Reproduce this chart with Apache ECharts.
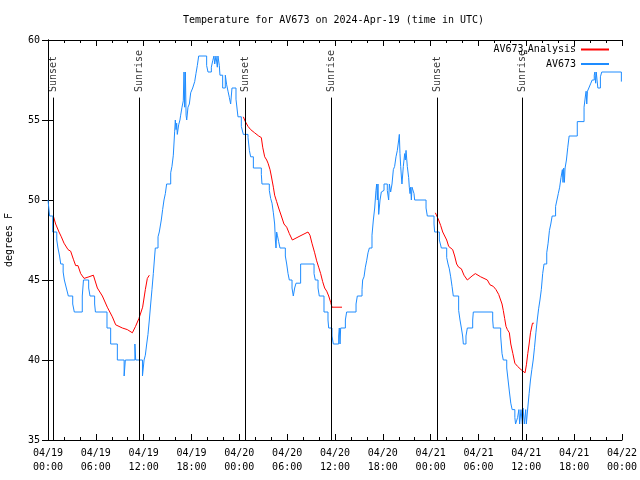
<!DOCTYPE html>
<html><head><meta charset="utf-8">
<script src="https://cdn.jsdelivr.net/npm/echarts@6.0.0/dist/echarts.min.js"></script>
<style>html,body{margin:0;padding:0;background:#fff}#c{width:640px;height:480px}</style>
</head><body><div id="c"></div>
<script>
// ---- data (hours since 2024-04-19 00:00 UTC, degrees F) ----
const tickLabels = ['04/19\n00:00','04/19\n06:00','04/19\n12:00','04/19\n18:00','04/20\n00:00','04/20\n06:00','04/20\n12:00','04/20\n18:00','04/21\n00:00','04/21\n06:00','04/21\n12:00','04/21\n18:00','04/22\n00:00'];
const sunHours = [0.67, 11.45, 24.75, 35.54, 48.83, 59.5];
const sunLabels = ['Sunset','Sunrise','Sunset','Sunrise','Sunset','Sunrise'];

const blueDay1 = [[0,50],[0.2,49],[0.6,48],[1.1,47.5],[1.25,47],[1.45,46.5],[1.6,46],[1.9,45.5],[2.05,45],[2.3,44.5],[2.55,44],[3.1,43.5],[3.3,43],[4.3,44],[4.45,45],[5.1,44.5],[5.27,44],[5.85,43.5],[5.95,43],[7.4,42],[7.86,41],[8.7,40],[9.55,39],[9.7,40],[10.9,41],[11.0,40],[11.85,39],[12.05,40],
[12.21,40.3],[12.38,41],[12.54,41.6],[12.71,42.5],[12.88,43.5],[13.04,44.4],[13.21,45.4],[13.38,46.5],[13.46,47],[13.8,47.7],[13.96,48],[14.21,48.75],[14.38,49.4],[14.55,50],[14.72,50.4],[14.88,51],[15.39,51.7],[15.55,52.1],[15.72,52.8],[15.89,54.3],[15.97,55],[16.06,54.4],[16.14,54.8],[16.22,54.1],[16.39,54.7],[16.55,55],[16.64,55.3],[16.81,55.8],[16.97,56.2],[17.06,58],[17.14,55.8],[17.23,58],[17.32,55.3],[17.4,55],[17.56,55.8],[17.73,56],[17.9,56.7],[18.15,57],[18.4,57.4],[18.56,57.9],[18.73,58.4],[18.9,59],[19.9,58.4],[20.07,58],[20.49,58.3],[20.66,58.7],[20.82,59],[20.91,58.5],[21.07,59],[21.24,58.3],[21.32,59],[21.49,58.4],[21.57,57.8],[21.91,57],[22.24,57.8],[22.41,57.2],[22.58,56.8],[22.75,56.4],[22.91,56],[23.08,57]];
const blueDay2 = [[23.58,56.3],[23.83,55.2],[24.25,54.6],[24.5,54.1],[25.09,53.9],[25.26,53.1],[25.42,52.7],[25.76,52],[26.76,51.6],[26.84,51],[27.76,50.6],[27.93,50.1],[28.1,49.8],[28.27,49.2],[28.43,48.5],[28.52,47.5],[28.6,47],[28.68,48],[28.77,47.8],[28.93,47.4],[29.1,47],[29.77,46.5],[29.94,46],[30.11,45.4],[30.27,45],[30.61,44.5],[30.77,44],[30.94,44.5],[31.11,44.8],[31.69,46],[33.37,45.4],[33.53,45],[33.87,44.5],[34.03,44],[34.62,43],
[35.12,42.5],[35.21,42],[35.62,41.5],[35.79,41],[36.46,41.5],[36.54,42],[36.63,41],[36.71,42],[37.3,42.5],[37.46,43],[38.64,43.5],[38.8,44],[39.39,44.4],[39.47,45],[39.64,45.2],[39.81,45.8],[39.97,46.2],[40.14,46.7],[40.31,47],[40.64,47.8],[40.81,48.75],[40.98,49.5],[41.14,50.6],[41.23,51],[41.31,50],[41.39,51],[41.48,49.1],[41.65,50],[41.81,50.5],[41.98,50.6],[42.15,51],[42.56,50.6],[42.73,50],[42.82,51],[42.98,50.5],[43.15,51],[43.32,51.9],[43.48,52.1],[43.65,52.7],[43.82,53.1],[43.99,53.75],[44.07,54.1],[44.15,52.9],[44.24,52.1],[44.32,51.5],[44.4,51],[44.57,52.1],[44.74,52.9],[44.82,52.5],[44.91,53.1],[45.07,52.1],[45.24,51.4],[45.32,50.8],[45.41,50.4],[45.49,50.8],[45.58,50],[45.66,50.8],[45.91,50.4],[45.99,50]];
const blueDay3 = [[47.42,49.5],[47.58,49],[48.42,48.5],[48.5,48],[49.09,47.5],[49.34,47],[50.01,46.4],[50.18,46],[50.34,45.7],[50.51,45.2],[50.68,44.6],[50.84,44],[51.51,43.1],[51.68,42.5],[51.85,42],[52.01,41.5],[52.1,41],[52.43,41.5],[52.6,42],[53.27,42.5],[53.35,43],[55.78,42.5],[55.86,42],[56.78,41.5],[56.95,40.4],[57.11,40],
[57.54,39.5],[57.71,38.75],[57.88,38],[58.05,37.3],[58.22,36.9],[58.56,36.4],[58.65,36],[58.9,36.4],[59.07,36.9],[59.16,36],[59.33,36.9],[59.5,36],[59.58,37],[59.75,36],[59.92,36.9],[60.0,36],[60.18,37],[60.35,37.9],[60.52,38.75],[60.69,39.4],[60.86,40],[61.03,40.8],[61.2,41.7],[61.37,42.5],[61.54,43.2],[61.71,43.75],[61.88,44.4],[62.05,45.4],[62.22,46],[62.56,46.7],[62.73,47.3],[62.9,48.1],[63.07,48.5],[63.24,49],[63.67,49.6],[63.84,50],[64.01,50.4],[64.18,50.8],[64.35,51.4],[64.52,51.9],[64.6,51.1],[64.69,52],[64.77,51.1],[64.86,52],[65.03,52.5],[65.2,53.3],[65.37,54],[66.39,54.9],[67.24,55.8],[67.41,56.5],[67.5,56.8],[67.58,56],[67.67,56.8],[67.84,57],[68.09,57.3],[68.26,57.5],[68.52,57.8],[68.6,58],[68.69,57.3],[68.77,58],[68.97,57],[69.29,57.7],[69.46,58],[71.92,57.4],[72,57.4]];

const redNight1 = [[0.67,49.0],[0.96,48.5],[1.38,48.0],[1.67,47.7],[2.01,47.3],[2.51,46.9],[2.84,46.8],[3.18,46.3],[3.47,45.9],[3.76,45.9],[4.1,45.4],[4.52,45.1],[5.14,45.2],[5.69,45.3],[6.19,44.5],[6.82,44.0],[7.44,43.3],[8.07,42.7],[8.49,42.2],[9.33,42.0],[9.95,41.9],[10.58,41.7],[10.75,41.65],[10.98,42.1],[11.41,42.6],[11.87,43.3],[12.21,44.4],[12.46,45.1],[12.71,45.3]];
const redNight2 = [[24.5,55.2],[24.75,54.9],[25.09,54.6],[25.42,54.4],[25.92,54.2],[26.43,54.0],[26.76,53.9],[26.93,53.3],[27.18,52.7],[27.43,52.5],[27.6,52.3],[27.85,51.9],[28.01,51.5],[28.27,50.8],[28.43,50.3],[28.68,49.9],[28.93,49.5],[29.27,49.0],[29.6,48.5],[29.94,48.3],[30.27,47.9],[30.65,47.5],[31.61,47.75],[32.61,48.0],[32.86,47.8],[33.11,47.3],[33.45,46.7],[33.7,46.2],[33.95,45.8],[34.2,45.4],[34.45,44.9],[34.7,44.5],[34.96,44.3],[35.21,44.0],[35.46,43.6],[35.62,43.3],[36.88,43.3]];
const redNight3 = [[48.59,49.2],[48.84,49.1],[49.0,48.75],[49.26,48.4],[49.51,48.0],[49.76,47.9],[50.01,47.5],[50.26,47.1],[50.51,47.0],[50.76,46.9],[51.01,46.5],[51.26,46.0],[51.51,45.8],[51.85,45.7],[52.18,45.3],[52.6,45.0],[52.85,45.1],[53.19,45.25],[53.6,45.4],[53.85,45.4],[54.27,45.2],[54.69,45.1],[55.11,45.0],[55.44,44.7],[55.86,44.6],[56.19,44.4],[56.53,44.1],[56.78,44.0],[56.95,43.5],[57.11,43.1],[57.28,42.6],[57.45,42.1],[57.62,41.9],[57.87,41.7],[58.05,41.0],[58.31,40.4],[58.56,39.8],[58.9,39.6],[59.33,39.4],[59.84,39.2],[60.01,39.7],[60.18,40.4],[60.35,41.0],[60.52,41.7],[60.77,42.3],[60.94,42.3]];

// ---- chart ----
const FONT = 'DejaVu Sans Mono';
const BLACK = '#000';
const RED = '#ff0000';
const BLUE = '#1e8cff';
const SUN_LINE_TOP = 56.4;   // where the vertical sun lines end (deg F scale)
const SUN_LABEL_Y = 56.75;   // anchor of the rotated labels

const chart = echarts.init(document.getElementById('c'), null, {renderer: 'canvas'});

const txt = {fontFamily: FONT, fontSize: 10, color: BLACK};

function xAxisCfg(pos, labels) {
  return {
    type: 'value', position: pos, min: 0, max: 72, interval: 6,
    axisLine: {show: true, lineStyle: {color: BLACK, width: 1}},
    axisTick: {show: true, inside: true, length: 6, lineStyle: {color: BLACK}},
    minorTick: {show: true, splitNumber: 3, length: 3, lineStyle: {color: BLACK}},
    splitLine: {show: false},
    minorSplitLine: {show: false},
    axisLabel: labels ? Object.assign({show: true, margin: 6, lineHeight: 14, hideOverlap: false,
      showMinLabel: true, showMaxLabel: true,
      formatter: v => tickLabels[Math.round(v / 6)]}, txt) : {show: false}
  };
}
function yAxisCfg(pos, labels) {
  const a = {
    type: 'value', position: pos, min: 35, max: 60, interval: 5,
    axisLine: {show: true, lineStyle: {color: BLACK, width: 1}},
    axisTick: {show: true, inside: true, length: 6, lineStyle: {color: BLACK}},
    splitLine: {show: false},
    axisLabel: labels ? Object.assign({show: true, margin: 8}, txt) : {show: false}
  };
  if (labels) {
    a.name = 'degrees F';
    a.nameLocation = 'middle';
    a.nameRotate = 90;
    a.nameGap = 34;
    a.nameTextStyle = Object.assign({}, txt);
  }
  return a;
}

const redCommon = {
  type: 'line', name: 'AV673_Analysis', showSymbol: false, symbol: 'none',
  lineStyle: {color: RED, width: 1}, itemStyle: {color: RED},
  xAxisIndex: 0, yAxisIndex: 0, z: 3, silent: true
};

const option = {
  animation: false,
  backgroundColor: '#fff',
  title: {
    text: 'Temperature for AV673 on 2024-Apr-19 (time in UTC)',
    left: 183, top: 15, padding: 0,
    textStyle: {fontFamily: FONT, fontSize: 10, fontWeight: 'normal', color: BLACK}
  },
  legend: {
    orient: 'vertical', right: 31, top: 44, padding: 0, align: 'right',
    itemWidth: 28, itemHeight: 2, itemGap: 3,
    data: [
      {name: 'AV673_Analysis', icon: 'rect', itemStyle: {color: RED, opacity: 1}},
      {name: 'AV673', icon: 'rect', itemStyle: {color: BLUE, opacity: 1}}
    ],
    formatter: n => n === 'AV673_Analysis' ? 'AV673{s|a}Analysis' : n,
    textStyle: {fontFamily: FONT, fontSize: 10, color: BLACK, lineHeight: 11,
      rich: {s: {fontFamily: FONT, fontSize: 7, color: BLACK, padding: [5, 0, 0, 0]}}}
  },
  grid: {left: 48, right: 18, top: 40, bottom: 40, containLabel: false, outerBoundsMode: 'none'},
  xAxis: [xAxisCfg('bottom', true), xAxisCfg('top', false)],
  yAxis: [yAxisCfg('left', true), yAxisCfg('right', false)],
  series: [
    {
      type: 'scatter', name: 'sun', xAxisIndex: 0, yAxisIndex: 0,
      symbolSize: 1, itemStyle: {color: 'rgba(0,0,0,0)'}, silent: true, z: 2,
      data: sunHours.map((h, i) => ({value: [h, SUN_LABEL_Y], name: sunLabels[i]})),
      label: {show: true, formatter: p => p.name, rotate: 90, position: 'inside',
        align: 'left', verticalAlign: 'middle', fontFamily: FONT, fontSize: 10, color: BLACK},
      markLine: {
        silent: true, symbol: ['none', 'none'], animation: false,
        label: {show: false},
        lineStyle: {color: BLACK, width: 1, type: 'solid'},
        emphasis: {disabled: true},
        data: sunHours.map(h => [{coord: [h, 35]}, {coord: [h, SUN_LINE_TOP]}])
      }
    },
    Object.assign({}, redCommon, {data: redNight1}),
    Object.assign({}, redCommon, {data: redNight2}),
    Object.assign({}, redCommon, {data: redNight3}),
    {
      type: 'line', name: 'AV673', showSymbol: false, symbol: 'none', step: 'end',
      lineStyle: {color: BLUE, width: 1}, itemStyle: {color: BLUE},
      xAxisIndex: 0, yAxisIndex: 0, z: 2, silent: true,
      data: blueDay1.concat(blueDay2, blueDay3)
    }
  ]
};
chart.setOption(option);
</script>
</body></html>
